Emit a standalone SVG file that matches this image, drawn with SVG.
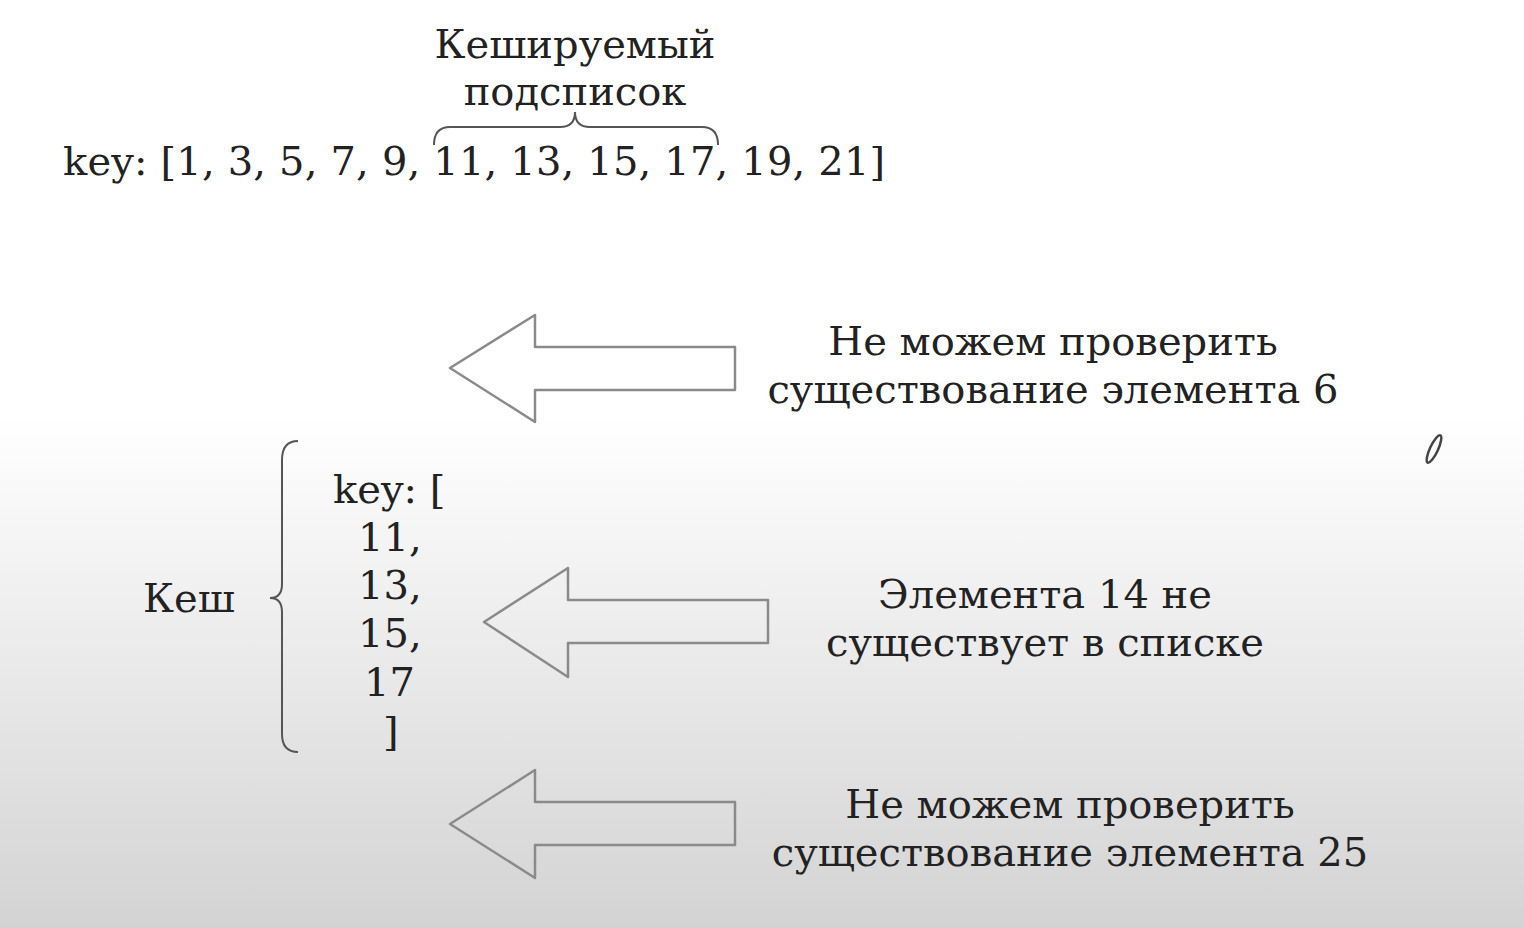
<svg xmlns="http://www.w3.org/2000/svg" width="1524" height="928" viewBox="0 0 1524 928">
<defs>
<linearGradient id="bg" x1="0" y1="0" x2="0" y2="1">
<stop offset="0" stop-color="#ffffff"/>
<stop offset="0.45" stop-color="#ffffff"/>
<stop offset="1" stop-color="#d3d3d3"/>
</linearGradient>
<style>
text{font-family:"DejaVu Serif","Liberation Serif",serif;font-size:40px;fill:#222}
.c{text-anchor:middle}
.arrow{fill:none;stroke:#8a8a8a;stroke-width:2.5;stroke-linejoin:round}
.brace{fill:none;stroke:#555;stroke-width:2}
</style>
</defs>
<rect width="1524" height="928" fill="url(#bg)"/>
<g id="top-list">
<text class="c" x="575" y="58">Кешируемый</text>
<text class="c" x="575" y="105">подсписок</text>
<path class="brace" d="M434,145 Q434,127 450,127 L560,127 Q575,127 575,112 Q575,127 590,127 L702,127 Q718,127 718,145"/>
<text x="63" y="175" letter-spacing="0.17">key: [1, 3, 5, 7, 9, 11, 13, 15, 17, 19, 21]</text>
</g>
<g id="cache">
<text x="143" y="612">Кеш</text>
<path class="brace" d="M298,441 Q282,441 282,460 L282,584 Q282,598 270,598 Q282,598 282,612 L282,734 Q282,752 298,752"/>
<text x="333" y="503">key: [</text>
<text x="358" y="551">11,</text>
<text x="358" y="599">13,</text>
<text x="358" y="647">15,</text>
<text x="364" y="696">17</text>
<text x="383" y="745">]</text>
</g>
<g id="connectors">
<path class="arrow" d="M450,368 L535,315 L535,347 L735,347 L735,390 L535,390 L535,422 Z"/>
<path class="arrow" d="M484,622 L568,568 L568,600 L768,600 L768,643 L568,643 L568,677 Z"/>
<path class="arrow" d="M450,824 L535,770 L535,802 L735,802 L735,845 L535,845 L535,878 Z"/>
</g>
<g id="note1">
<text class="c" x="1053" y="355">Не можем проверить</text>
<text class="c" x="1053" y="403">существование элемента 6</text>
</g>
<g id="note2">
<text class="c" x="1045" y="608">Элемента 14 не</text>
<text class="c" x="1045" y="656">существует в списке</text>
</g>
<g id="note3">
<text class="c" x="1070" y="818">Не можем проверить</text>
<text class="c" x="1070" y="866">существование элемента 25</text>
</g>
<ellipse cx="1434" cy="449" rx="4" ry="15" transform="rotate(25 1434 449)" fill="none" stroke="#444" stroke-width="2.5"/>
</svg>
